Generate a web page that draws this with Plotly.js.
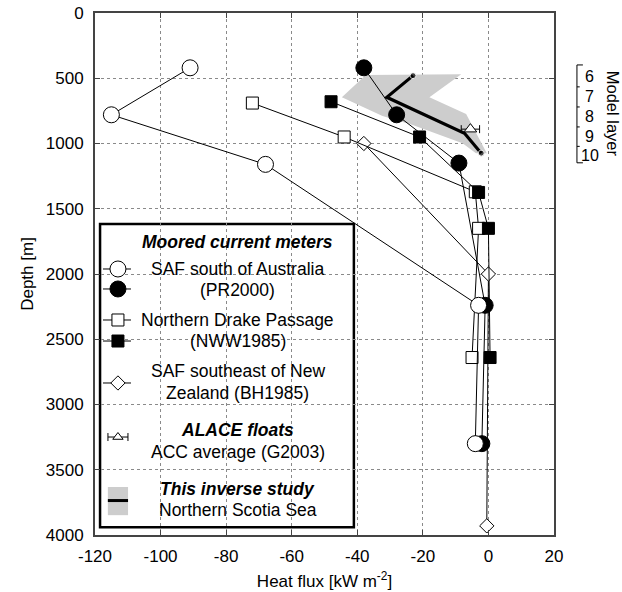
<!DOCTYPE html>
<html>
<head>
<meta charset="utf-8">
<script src="https://cdn.plot.ly/plotly-3.0.1.min.js"></script>
<style>html,body{margin:0;padding:0;background:#fff;}#chart{width:622px;height:592px;}</style>
</head>
<body>
<div id="chart"></div>
<script>
// ---------- data ----------
const pr2000OpenFlux   = [-91, -115, -68, -3, -4];
const pr2000OpenDepth  = [420, 780, 1160, 2240, 3300];
const pr2000FilledFlux = [-38, -28, -9, -1, -2];
const pr2000FilledDepth= [420, 780, 1150, 2240, 3300];
const nwwOpenFlux      = [-72, -44, -4, -3, -5];
const nwwOpenDepth     = [690, 950, 1370, 1650, 2640];
const nwwFilledFlux    = [-48, -21, -3, 0, 0.5];
const nwwFilledDepth   = [680, 950, 1375, 1650, 2640];
const bhFlux           = [-38, 0, -0.5];
const bhDepth          = [1000, 2000, 3930];
const alaceFlux        = [-5.5];
const alaceDepth       = [890];
const alaceErr         = [2.8];
const inverseFlux      = [-23, -31, -7.3, -2.2];
const inverseDepth     = [480, 646, 921, 1074];
const shadeFlux        = [-44.7, -37.4, -8.3, -18, -6.8, -0.5, -3.8, -7.9, -23.1, -32.3];
const shadeDepth       = [646, 475, 470, 646, 773, 1074, 1074, 998, 858, 789];

const xTickVals  = [-120, -100, -80, -60, -40, -20, 0, 20];
const xTickText  = ['-120', '-100', '-80', '-60', '-40', '-20', '0', '20'];
const yTickVals  = [0, 500, 1000, 1500, 2000, 2500, 3000, 3500, 4000];
const yTickText  = ['0', '500', '1000', '1500', '2000', '2500', '3000', '3500', '4000'];
const layerLabels = ['6', '7', '8', '9', '10'];
const layerLabelDepth = [490, 643, 796, 949, 1095];
const layerTickDepth = [398, 566, 720, 873, 1022, 1148];

const FONT = 'Liberation Sans, Arial, Helvetica, sans-serif';
const traces = [];

// gray uncertainty envelope
traces.push({x: shadeFlux, y: shadeDepth, mode: 'lines', fill: 'toself',
  fillcolor: '#cdcdcd', line: {width: 0, color: '#cdcdcd'}, hoverinfo: 'skip'});

function series(x, y, symbol, size, fill) {
  return {x: x, y: y, mode: 'lines+markers', cliponaxis: false,
    line: {color: '#000', width: 1},
    marker: {symbol: symbol, size: size, color: fill, line: {color: '#000', width: 1}}};
}
traces.push(series(bhFlux, bhDepth, 'diamond', 11, '#fff'));
traces.push(series(nwwOpenFlux, nwwOpenDepth, 'square', 12, '#fff'));
traces.push(series(nwwFilledFlux, nwwFilledDepth, 'square', 12, '#000'));
traces.push(series(pr2000FilledFlux, pr2000FilledDepth, 'circle', 16, '#000'));
traces.push(series(pr2000OpenFlux, pr2000OpenDepth, 'circle', 16, '#fff'));

// inverse study thick line
traces.push({x: inverseFlux, y: inverseDepth, mode: 'lines+markers',
  line: {color: '#000', width: 3.2},
  marker: {size: inverseFlux.map((v, i) => (i === 0 || i === inverseFlux.length - 1) ? 6 : 0), color: '#000'}});

// ALACE float
traces.push({x: alaceFlux, y: alaceDepth, mode: 'markers',
  marker: {symbol: 'triangle-up', size: 11, color: '#fff', line: {color: '#000', width: 1}},
  error_x: {type: 'data', array: alaceErr, visible: true, color: '#000', thickness: 1, width: 4}});

// ---------- legend keys (overlay axes, paper-like coordinates) ----------
const keyX = 0.050, keyL = 0.0174, keyR = 0.0784;
function keyLine(y) {
  return {x: [keyL, keyR], y: [y, y], xaxis: 'x2', yaxis: 'y2', mode: 'lines',
    line: {color: '#000', width: 1}, cliponaxis: false, hoverinfo: 'skip'};
}
function keyMark(y, symbol, size, fill) {
  return {x: [keyX], y: [y], xaxis: 'x2', yaxis: 'y2', mode: 'markers', cliponaxis: false,
    marker: {symbol: symbol, size: size, color: fill, line: {color: '#000', width: 1}}, hoverinfo: 'skip'};
}
const keyRows = [
  [0.5096, 'circle', 16, '#fff'],
  [0.4713, 'circle', 16, '#000'],
  [0.4119, 'square', 12, '#fff'],
  [0.3716, 'square', 12, '#000'],
  [0.2912, 'diamond', 11, '#fff']
];
keyRows.forEach(r => { traces.push(keyLine(r[0])); traces.push(keyMark(r[0], r[1], r[2], r[3])); });
traces.push({x: [keyX], y: [0.1877], xaxis: 'x2', yaxis: 'y2', mode: 'markers', cliponaxis: false,
  marker: {symbol: 'triangle-up', size: 9, color: '#fff', line: {color: '#000', width: 1}},
  error_x: {type: 'constant', value: 0.0218, color: '#000', thickness: 1, width: 4}, hoverinfo: 'skip'});
traces.push({x: [0.028, 0.072], y: [0.066, 0.066], xaxis: 'x2', yaxis: 'y2', mode: 'lines',
  line: {color: '#000', width: 3}, cliponaxis: false, hoverinfo: 'skip'});

traces.forEach(t => { t.showlegend = false; });

// ---------- annotations ----------
const ann = [];
function txt(text, y, bold) {
  ann.push({xref: 'paper', yref: 'paper', x: 0.311, y: y, xanchor: 'center', yanchor: 'middle',
    showarrow: false, text: bold ? '<b><i>' + text + '</i></b>' : text,
    font: {family: FONT, size: 17.5, color: '#000'}});
}
txt('Moored current meters', 0.561, true);
txt('SAF south of Australia', 0.5096, false);
txt('(PR2000)', 0.469, false);
txt('Northern Drake Passage', 0.412, false);
txt('(NWW1985)', 0.372, false);
txt('SAF southeast of New', 0.314, false);
txt('Zealand (BH1985)', 0.272, false);
txt('ALACE floats', 0.201, true);
txt('ACC average (G2003)', 0.159, false);
txt('This inverse study', 0.088, true);
txt('Northern Scotia Sea', 0.048, false);

layerLabels.forEach((l, i) => {
  ann.push({xref: 'paper', yref: 'y', x: 1.0775, y: layerLabelDepth[i], xanchor: 'center', yanchor: 'middle',
    showarrow: false, text: l, font: {family: FONT, size: 16, color: '#000'}});
});
ann.push({xref: 'paper', yref: 'y', x: 1.128, y: 770, xanchor: 'center', yanchor: 'middle',
  showarrow: false, text: 'Model layer', textangle: 90, font: {family: FONT, size: 16.5, color: '#000'}});

// ---------- shapes ----------
const shapes = [
  {type: 'rect', xref: 'paper', yref: 'paper', x0: 0.011, x1: 0.564, y0: 0.015, y1: 0.596,
   fillcolor: '#fff', line: {color: '#000', width: 2.5}, layer: 'between'},
  {type: 'rect', xref: 'paper', yref: 'paper', x0: 0.028, x1: 0.072, y0: 0.038, y1: 0.092,
   fillcolor: '#cdcdcd', line: {width: 0}, layer: 'between'},
  {type: 'line', xref: 'paper', yref: 'y', x0: 1.050, x1: 1.050,
   y0: layerTickDepth[0], y1: layerTickDepth[layerTickDepth.length - 1], line: {color: '#000', width: 1}}
];
layerTickDepth.forEach((d, i) => {
  const edge = (i === 0 || i === layerTickDepth.length - 1);
  shapes.push({type: 'line', xref: 'paper', yref: 'y', x0: 1.050, x1: edge ? 1.063 : 1.056,
    y0: d, y1: d, line: {color: '#000', width: 1}});
});

const axisCommon = {
  showgrid: true, gridcolor: '#8a8a8a', griddash: 'dot', gridwidth: 1,
  zeroline: false, showline: true, linecolor: '#444', linewidth: 2, mirror: 'ticks',
  ticks: 'inside', ticklen: 5, tickcolor: '#444', tickwidth: 1,
  tickfont: {family: FONT, size: 17, color: '#000'}
};

const layout = {
  width: 622, height: 592,
  margin: {l: 95, r: 68, t: 13, b: 57},
  paper_bgcolor: '#fff', plot_bgcolor: '#fff',
  showlegend: false,
  xaxis: Object.assign({}, axisCommon, {
    range: [-120, 20], tickmode: 'array', tickvals: xTickVals, ticktext: xTickText,
    ticklabelstandoff: 5,
    title: {text: 'Heat flux [kW m<sup>-2</sup>]', font: {family: FONT, size: 17, color: '#000'}, standoff: 10}
  }),
  yaxis: Object.assign({}, axisCommon, {
    range: [4000, 0], tickmode: 'array', tickvals: yTickVals, ticktext: yTickText,
    ticklabelstandoff: 6,
    title: {text: 'Depth [m]', font: {family: FONT, size: 17, color: '#000'}, standoff: 8}
  }),
  xaxis2: {overlaying: 'x', range: [0, 1], visible: false, fixedrange: true},
  yaxis2: {overlaying: 'y', range: [0, 1], visible: false, fixedrange: true},
  shapes: shapes,
  annotations: ann
};

Plotly.newPlot('chart', traces, layout, {displayModeBar: false, staticPlot: true});
</script>
</body>
</html>
